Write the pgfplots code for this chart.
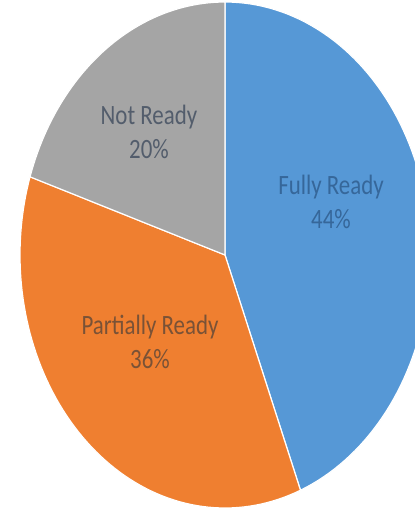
\documentclass[border=0pt]{standalone}
\usepackage{pgfplots}
\pgfplotsset{compat=1.18}
\usepackage{pgfplotstable}
\usepackage{graphicx}
\usepackage{fontspec}
\setmainfont{Carlito}
\definecolor{pieblue}{HTML}{5698D6}
\definecolor{pieorange}{HTML}{EF7F30}
\definecolor{piegray}{HTML}{A5A5A5}
\definecolor{txtblue}{HTML}{36679A}
\definecolor{txtorange}{HTML}{7A5236}
\definecolor{txtgray}{HTML}{535D6C}
\pgfplotstableread{
label value
Fully 44
Partially 36
Not 20
}\piedata
\begin{document}
\begin{tikzpicture}
\pgfplotstablegetelem{0}{value}\of\piedata \pgfmathsetmacro\va{\pgfplotsretval}
\pgfplotstablegetelem{1}{value}\of\piedata \pgfmathsetmacro\vb{\pgfplotsretval}
\pgfplotstablegetelem{2}{value}\of\piedata \pgfmathsetmacro\vc{\pgfplotsretval}
\pgfmathsetmacro\aA{90}
\pgfmathsetmacro\aB{90-3.6*\va}
\pgfmathsetmacro\aC{\aB-3.6*\vb}
\pgfmathsetmacro\aD{\aC-3.6*\vc}
\begin{axis}[
  scale only axis, width=415bp, height=510bp,
  xmin=-1.0976, xmax=0.9268, ymin=-1.0079, ymax=1.0079,
  hide axis, clip=true,
]
\addplot[fill=pieblue, draw=white, line width=1.2pt, domain=\aA:\aB, samples=90, variable=\t]
  ({cos(\t)},{sin(\t)}) -- (axis cs:0,0) -- cycle;
\addplot[fill=pieorange, draw=white, line width=1.2pt, domain=\aB:\aC, samples=80, variable=\t]
  ({cos(\t)},{sin(\t)}) -- (axis cs:0,0) -- cycle;
\addplot[fill=piegray, draw=white, line width=1.2pt, domain=\aC:\aD, samples=50, variable=\t]
  ({cos(\t)},{sin(\t)}) -- (axis cs:0,0) -- cycle;
\node[text=txtgray, inner sep=0pt] at (axis cs:-0.371,0.474)
  {\scalebox{1}[1.22]{\fontsize{23}{28}\selectfont\begin{tabular}{@{}c@{}}Not Ready\\20\%\end{tabular}}};
\node[text=txtblue, inner sep=0pt] at (axis cs:0.517,0.198)
  {\scalebox{1}[1.22]{\fontsize{23}{28}\selectfont\begin{tabular}{@{}c@{}}Fully Ready\\44\%\end{tabular}}};
\node[text=txtorange, inner sep=0pt] at (axis cs:-0.366,-0.356)
  {\scalebox{1}[1.22]{\fontsize{23}{28}\selectfont\begin{tabular}{@{}c@{}}Partially Ready\\36\%\end{tabular}}};
\end{axis}
\pgfresetboundingbox
\useasboundingbox (current axis.south west) rectangle (current axis.north east);
\end{tikzpicture}
\end{document}
